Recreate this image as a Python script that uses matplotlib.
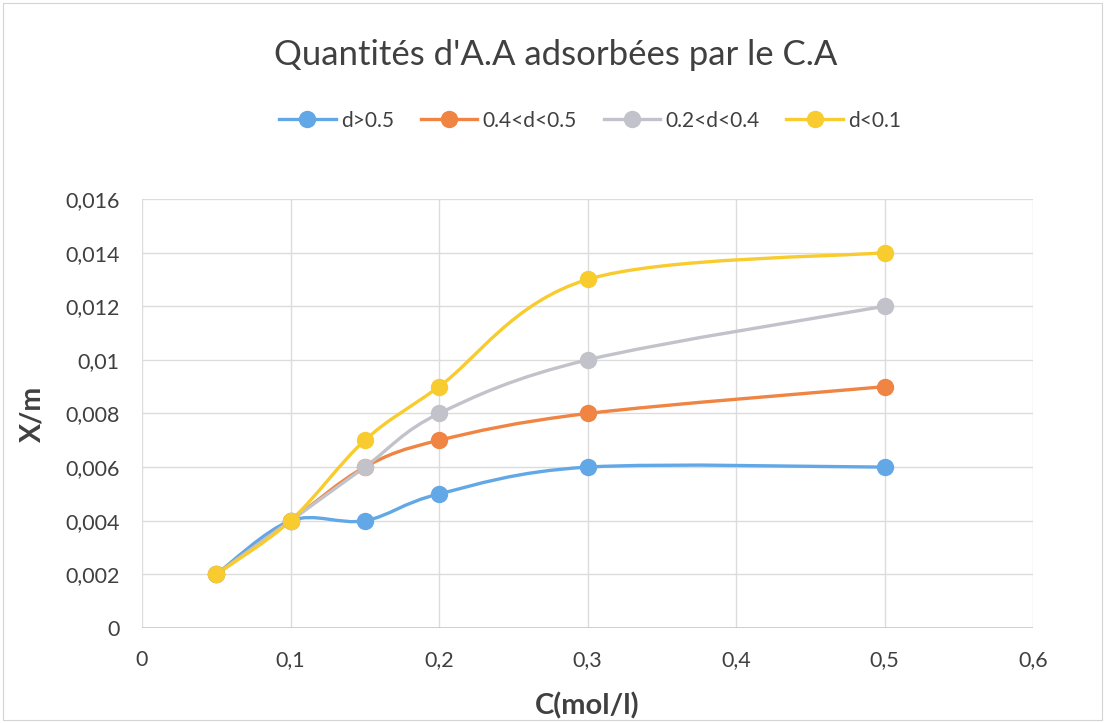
import matplotlib
matplotlib.use("Agg")
import matplotlib.pyplot as plt
from matplotlib.path import Path
from matplotlib.patches import PathPatch, Rectangle
from matplotlib.lines import Line2D
import numpy as np

# Concentrations and adsorbed quantities per particle-size fraction
concentration = [0.05, 0.1, 0.15, 0.2, 0.3, 0.5]
series_names = ["d>0.5", "0.4<d<0.5", "0.2<d<0.4", "d<0.1"]
q_d_gt_05 = [0.002, 0.004, 0.004, 0.005, 0.006, 0.006]
q_d_04_05 = [0.002, 0.004, 0.006, 0.007, 0.008, 0.009]
q_d_02_04 = [0.002, 0.004, 0.006, 0.008, 0.010, 0.012]
q_d_lt_01 = [0.002, 0.004, 0.007, 0.009, 0.013, 0.014]
series_values = [q_d_gt_05, q_d_04_05, q_d_02_04, q_d_lt_01]
colors = ["#62A8E6", "#EF8443", "#C2C2CA", "#F8CB2E"]

x_ticks = [0, 0.1, 0.2, 0.3, 0.4, 0.5, 0.6]
x_tick_labels = ["0", "0,1", "0,2", "0,3", "0,4", "0,5", "0,6"]
y_ticks = [0, 0.002, 0.004, 0.006, 0.008, 0.01, 0.012, 0.014, 0.016]
y_tick_labels = ["0", "0,002", "0,004", "0,006", "0,008", "0,01", "0,012", "0,014", "0,016"]

FONT = ["Lato", "DejaVu Sans"]
TEXT = "#404040"


def smooth_path(xs, ys):
    """Cubic Bezier path through the points (Catmull-Rom style tangents)."""
    pts = np.column_stack([xs, ys]).astype(float)
    n = len(pts)
    verts = [pts[0]]
    codes = [Path.MOVETO]
    for i in range(n - 1):
        p_prev = pts[i - 1] if i > 0 else pts[i]
        p0 = pts[i]
        p1 = pts[i + 1]
        p_next = pts[i + 2] if i + 2 < n else pts[i + 1]
        c1 = p0 + (p1 - p_prev) / 6.0
        c2 = p1 - (p_next - p0) / 6.0
        verts += [c1, c2, p1]
        codes += [Path.CURVE4] * 3
    return Path(verts, codes)


fig = plt.figure(figsize=(11.05, 7.23), dpi=100)
ax = fig.add_axes([0.1285, 0.1314, 0.8065, 0.5934])

ax.set_xlim(0, 0.6)
ax.set_ylim(0, 0.016)
ax.set_xticks(x_ticks)
ax.set_xticklabels(x_tick_labels)
ax.set_yticks(y_ticks)
ax.set_yticklabels(y_tick_labels)
ax.tick_params(length=0, labelsize=15.5, labelcolor=TEXT)
for lab in ax.get_xticklabels() + ax.get_yticklabels():
    lab.set_fontfamily(FONT)
ax.tick_params(axis="y", pad=16)
ax.tick_params(axis="x", pad=16)
ax.grid(True, color="#DCDCDC", linewidth=1.0)
ax.set_axisbelow(True)
for s in ax.spines.values():
    s.set_visible(False)
ax.axhline(0, color="#C8C8C8", linewidth=1.2, zorder=1)

for name, vals, col in zip(series_names, series_values, colors):
    patch = PathPatch(smooth_path(concentration, vals), facecolor="none",
                      edgecolor=col, linewidth=2.4, zorder=3,
                      capstyle="round", joinstyle="round")
    ax.add_patch(patch)
    ax.plot(concentration, vals, linestyle="none", marker="o",
            markersize=11.5, color=col, markeredgecolor=col, zorder=4)

ax.set_xlabel("C(mol/l)", fontsize=21, fontweight="bold", color=TEXT,
              fontfamily=FONT, labelpad=16)
ax.set_ylabel("X/m", fontsize=20.5, fontweight="bold", color=TEXT,
              fontfamily=FONT, labelpad=14)

fig.text(0.503, 0.924, "Quantités d'A.A adsorbées par le C.A", ha="center",
         va="center", fontsize=25, color=TEXT, fontfamily=FONT)

handles = [Line2D([], [], color=c, linewidth=2.4, marker="o", markersize=11.5)
           for c in colors]
fig.legend(handles, series_names, loc="center", bbox_to_anchor=(0.534, 0.833),
           ncol=4, frameon=False, handlelength=2.7, columnspacing=1.3,
           handletextpad=0.25, prop={"family": FONT, "size": 15},
           labelcolor=TEXT)

fig.patches.append(Rectangle((0.003, 0.004), 0.994, 0.992,
                             transform=fig.transFigure, fill=False,
                             edgecolor="#D4D4D4", linewidth=0.8))

fig.savefig("out.png", dpi=100)
